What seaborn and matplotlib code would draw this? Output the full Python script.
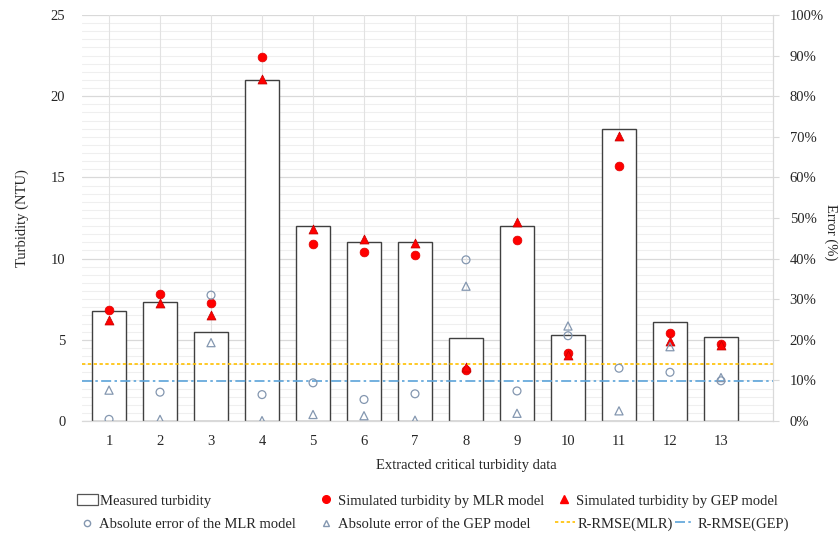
import numpy as np
import pandas as pd
import matplotlib
matplotlib.use("Agg")
import matplotlib.pyplot as plt
import seaborn as sns
from matplotlib.lines import Line2D
from matplotlib.patches import Patch
from matplotlib.ticker import MultipleLocator, FuncFormatter

# ---------------- data ----------------
categories = [str(i) for i in range(1, 14)]
measured = [6.8, 7.3, 5.5, 21.0, 12.0, 11.0, 11.0, 5.1, 12.0, 5.3, 18.0, 6.1, 5.2]
sim_mlr = [6.85, 7.85, 7.25, 22.4, 10.9, 10.4, 10.25, 3.15, 11.15, 4.2, 15.7, 5.4, 4.75]
sim_gep = [6.25, 7.25, 6.55, 21.05, 11.8, 11.2, 10.95, 3.35, 12.25, 4.05, 17.55, 4.95, 4.65]
err_mlr = [0.4, 7.1, 31.0, 6.5, 9.4, 5.3, 6.7, 39.7, 7.4, 21.0, 13.0, 12.0, 9.9]   # %
err_gep = [7.6, 0.4, 19.3, 0.1, 1.6, 1.3, 0.2, 33.2, 1.9, 23.4, 2.5, 18.3, 10.7]  # %
rrmse_mlr = 14.0  # %
rrmse_gep = 9.9   # %
y_ticks_left = [0, 5, 10, 15, 20, 25]
y_ticks_right = list(range(0, 101, 10))

df = pd.DataFrame({"cat": categories, "measured": measured, "sim_mlr": sim_mlr,
                   "sim_gep": sim_gep, "err_mlr": err_mlr, "err_gep": err_gep})

# ---------------- style ----------------
sns.set_theme(style="white")
plt.rcParams["font.family"] = ["Liberation Serif", "DejaVu Serif"]
FS = 10.5
TXT = "#262626"

fig = plt.figure(figsize=(8.4, 5.33), dpi=100)
W, H = 840, 533
ax = fig.add_axes([82 / W, 1 - 421 / H, (773 - 82) / W, (421 - 15) / H])

# grid
ax.set_axisbelow(True)
ax.yaxis.set_major_locator(MultipleLocator(5))
ax.yaxis.set_minor_locator(MultipleLocator(0.5))
ax.grid(axis="y", which="minor", color="#efefef", linewidth=0.8)
ax.grid(axis="y", which="major", color="#d9d9d9", linewidth=0.9)

# bars
sns.barplot(data=df, x="cat", y="measured", ax=ax, color="white",
            edgecolor="#404040", linewidth=1.0, width=0.68, zorder=2)

for i in range(len(categories)):
    ax.axvline(i, color="#e2e2e2", linewidth=0.8, zorder=1)

# simulated turbidity
sns.scatterplot(data=df, x="cat", y="sim_mlr", ax=ax, marker="o", color="#ff0000",
                s=40, edgecolor="#e00000", linewidth=0.5, zorder=4)
sns.scatterplot(data=df, x="cat", y="sim_gep", ax=ax, marker="^", color="#ff0000",
                s=42, edgecolor="#c00000", linewidth=0.5, zorder=4)

ax.set_ylim(0, 25)
ax.set_xlim(-0.53, 13.02)
ax.set_yticks(y_ticks_left)
ax.tick_params(axis="y", which="both", length=0, pad=12, labelsize=FS, labelcolor=TXT)
ax.tick_params(axis="x", length=0, pad=10, labelsize=FS, labelcolor=TXT)
ax.set_xlabel("")
ax.set_ylabel("")
for s in ["left", "top", "right"]:
    ax.spines[s].set_visible(False)
ax.spines["bottom"].set_color("#d9d9d9")
ax.spines["bottom"].set_linewidth(0.9)

# secondary axis: errors
ax2 = ax.twinx()
sns.scatterplot(data=df, x="cat", y="err_mlr", ax=ax2, marker="o", s=32,
                color="#8497b0", linewidth=0.9, zorder=3)
sns.scatterplot(data=df, x="cat", y="err_gep", ax=ax2, marker="^", s=34,
                color="#8497b0", linewidth=0.9, zorder=3)
for coll in ax2.collections:
    coll.set_facecolor("none")
    coll.set_edgecolor("#8497b0")
ax2.axhline(rrmse_mlr, color="#ffc000", linewidth=1.2, linestyle=(0, (2, 1.5)), zorder=2)
ax2.axhline(rrmse_gep, color="#5ba3d9", linewidth=1.2, linestyle=(0, (6, 2, 1.5, 2)), zorder=2)
ax2.set_ylim(0, 100)
ax2.set_yticks(y_ticks_right)
ax2.yaxis.set_major_formatter(FuncFormatter(lambda v, p: f"{v:.0f}%"))
ax2.tick_params(axis="y", length=4, width=0.8, color="#d9d9d9", pad=8,
                labelsize=FS, labelcolor=TXT)
ax2.set_ylabel("")
for s in ["left", "top", "bottom"]:
    ax2.spines[s].set_visible(False)
ax2.spines["right"].set_color("#d9d9d9")
ax2.spines["right"].set_linewidth(0.9)
ax2.set_xlim(-0.53, 13.02)

# axis titles
fig.text(22 / W, 1 - 218 / H, "Turbidity (NTU)", rotation=90, ha="center", va="center",
         fontsize=FS, color=TXT)
fig.text(831 / W, 1 - 232 / H, "Error (%)", rotation=270, ha="center", va="center",
         fontsize=FS, color=TXT)
fig.text(466 / W, 1 - 466 / H, "Extracted critical turbidity data", ha="center", va="center",
         fontsize=FS, color=TXT)

# legend (Excel-like free layout)
def add_item(handle, label, x, y, hl, htp):
    fig.legend([handle], [label], loc="center left", bbox_to_anchor=(x / W, 1 - y / H),
               frameon=False, fontsize=FS, handlelength=hl, handletextpad=htp,
               borderpad=0, borderaxespad=0, labelcolor=TXT)

add_item(Patch(facecolor="white", edgecolor="#555555", linewidth=0.9),
         "Measured turbidity", 77, 501, 1.45, 0.15)
add_item(Line2D([], [], marker="o", linestyle="none", color="#ff0000", markersize=5.5),
         "Simulated turbidity by MLR model", 320, 501, 0.8, 0.4)
add_item(Line2D([], [], marker="^", linestyle="none", color="#ff0000", markersize=5.5),
         "Simulated turbidity by GEP model", 558, 501, 0.8, 0.45)
add_item(Line2D([], [], marker="o", linestyle="none", markerfacecolor="none",
                markeredgecolor="#8497b0", markersize=4.5),
         "Absolute error of the MLR model", 81, 524, 0.8, 0.45)
add_item(Line2D([], [], marker="^", linestyle="none", markerfacecolor="none",
                markeredgecolor="#8497b0", markersize=4.5),
         "Absolute error of the GEP model", 320, 524, 0.8, 0.4)
add_item(Line2D([], [], color="#ffc000", linewidth=1.2, linestyle=(0, (2, 1.5))),
         "R-RMSE(MLR)", 555, 524, 1.4, 0.15)
add_item(Line2D([], [], color="#5ba3d9", linewidth=1.2, linestyle=(0, (6, 2, 1.5, 2))),
         "R-RMSE(GEP)", 675, 524, 1.3, 0.25)

fig.savefig("out.png", dpi=100, facecolor="white")
